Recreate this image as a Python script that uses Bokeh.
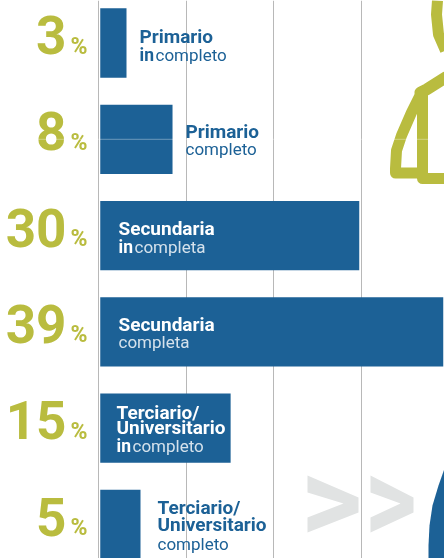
from bokeh.core.properties import value
from bokeh.embed import file_html
from bokeh.models import ColumnDataSource, FixedTicker, Range1d, Span
from bokeh.plotting import figure
from bokeh.resources import INLINE

# Data
rows = [0, 1, 2, 3, 4, 5]
percent_labels = ["3", "8", "30", "39", "15", "5"]
bar_lengths = [3.2, 8.46, 29.8, 39.4, 15.1, 4.8]
grid_ticks = [0, 10, 20, 30, 40]

# Label texts: row, text
bold_rows = [0, 1, 2, 3, 4, 4, 5, 5]
bold_texts = ["Primario", "Primario", "Secundaria", "Secundaria",
              "Terciario/", "Universitario", "Terciario/", "Universitario"]
bold_x = [139, 185, 118, 118, 116, 116, 157, 157]
bold_dy = [-7, -8, -7, -7, -16, -1, -17, 0]
bold_colors = ["#1c6196", "#1c6196", "#ffffff", "#ffffff", "#ffffff", "#ffffff", "#1c6196", "#1c6196"]

in_rows = [0, 2, 4]
in_x = [139, 118, 116]
in_dy = [11.5, 11, 18]
in_colors = ["#1c6196", "#ffffff", "#ffffff"]

light_rows = [0, 1, 2, 3, 4, 5]
light_texts = ["completo", "completo", "completa", "completa", "completo", "completo"]
light_x = [155, 185, 134, 118, 132, 157]
light_dy = [11.5, 10, 11, 10, 18, 19]
light_colors = ["#1c6196", "#1c6196", "#d5e2ec", "#d5e2ec", "#d5e2ec", "#1c6196"]

BLUE = "#1c6196"
OLIVE = "#b9bc3f"
FONT = value("Roboto")

p = figure(width=444, height=558, output_backend="svg", toolbar_location=None,
           x_range=Range1d(-98 / 8.75, 346 / 8.75),
           y_range=Range1d(515.5 / 96.3, -42.5 / 96.3),
           min_border=0, outline_line_color=None, background_fill_color="white")
p.styles = {"position": "fixed", "left": "0px", "top": "0px"}
p.extra_x_ranges = {"px": Range1d(0, 444)}
p.extra_y_ranges = {"py": Range1d(558, 0)}
p.axis.visible = False
p.ygrid.visible = False
p.xgrid.ticker = FixedTicker(ticks=grid_ticks)
p.xgrid.grid_line_color = "#b8b8b8"
p.xgrid.grid_line_width = 1

# Bars
bars = ColumnDataSource(dict(y=rows, right=bar_lengths))
p.hbar(y="y", right="right", left=0.2, height=0.72, source=bars, fill_color=BLUE, line_color=None)

# Icon decorations (pixel-space ranges)
ICON = dict(x_range_name="px", y_range_name="py")
p.patch([307, 358, 358, 307, 307, 343, 307],
        [475, 497, 512, 532, 517, 503, 492], fill_color="#e1e3e3", line_color=None, **ICON)
p.patch([370, 413, 413, 370, 370, 400, 370],
        [475, 497, 512, 532, 517, 503, 492], fill_color="#e1e3e3", line_color=None, **ICON)
p.patch([444, 438, 432, 429, 428, 428, 444], [468, 485, 505, 525, 545, 558, 558],
        fill_color=BLUE, line_color=None, **ICON)
p.line([437, 436, 438, 445], [0, 14, 34, 50], line_color=OLIVE, line_width=11, **ICON)
p.line([445, 426, 420], [77, 89, 92], line_color=OLIVE, line_width=12, line_cap="round", **ICON)
p.line([421, 411, 401, 396, 395, 395, 421], [92, 112, 135, 150, 168, 172.5, 172.5],
       line_color=OLIVE, line_width=11, line_join="round", **ICON)
p.line([422, 422, 445], [90, 178, 178], line_color=OLIVE, line_width=11, line_join="round", **ICON)

# Percent labels
pct = ColumnDataSource(dict(y=rows, t=percent_labels, x=[66] * 6,
                            pc=["%"] * 6, xp=[70] * 6))
p.text(x="x", y="y", text="t", source=pct, x_range_name="px", text_font=FONT, text_font_size="53px",
       text_font_style="bold", text_color=OLIVE, text_align="right", text_baseline="alphabetic", y_offset=-8)
p.text(x="xp", y="y", text="pc", source=pct, x_range_name="px", text_font=FONT, text_font_size="23px",
       text_font_style="bold", text_color=OLIVE, text_align="left", text_baseline="alphabetic", y_offset=3)

# Category labels
p.text(x="x", y="y", text="t", y_offset="dy", text_color="c", x_range_name="px",
       source=ColumnDataSource(dict(x=bold_x, y=bold_rows, t=bold_texts, dy=bold_dy, c=bold_colors)),
       text_font=FONT, text_font_size="19px", text_font_style="bold", text_baseline="alphabetic")
p.text(x="x", y="y", text="t", y_offset="dy", text_color="c", x_range_name="px",
       source=ColumnDataSource(dict(x=in_x, y=in_rows, t=["in"] * 3, dy=in_dy, c=in_colors)),
       text_font=FONT, text_font_size="17.5px", text_font_style="bold", text_baseline="alphabetic")
p.text(x="x", y="y", text="t", y_offset="dy", text_color="c", x_range_name="px",
       source=ColumnDataSource(dict(x=light_x, y=light_rows, t=light_texts, dy=light_dy, c=light_colors)),
       text_font=FONT, text_font_size="17px", text_baseline="alphabetic")

# Thin seam visible across the picture
p.add_layout(Span(location=1.0, dimension="width", line_color="white", line_alpha=0.35, line_width=1))

open("out.html", "w").write(file_html(p, INLINE))
